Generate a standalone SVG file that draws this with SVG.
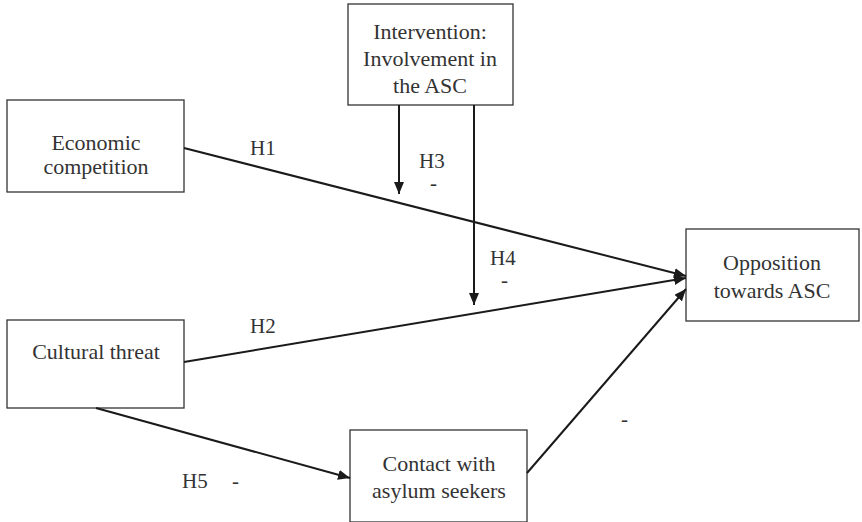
<svg xmlns="http://www.w3.org/2000/svg" width="862" height="522" viewBox="0 0 862 522">
<style>
.box{fill:#fff;stroke:#333;stroke-width:1.3}
.t{font-size:22px;fill:#333;text-anchor:middle}
.lbl{font-size:21px;fill:#333}
.c{stroke:#1a1a1a;stroke-width:2;fill:none;marker-end:url(#ah)}
</style>
<defs>
<marker id="ah" viewBox="0 0 12 10" refX="12" refY="5" markerWidth="12" markerHeight="10" markerUnits="userSpaceOnUse" orient="auto">
<path d="M0,0 L12,5 L0,10 Z" fill="#1a1a1a"/>
</marker>
</defs>
<g font-family="'Liberation Serif', 'DejaVu Serif', serif">
<g id="intervention">
<rect class="box" x="348" y="4" width="165" height="101"/>
<text class="t" x="430" y="39">Intervention:</text>
<text class="t" x="430" y="66">Involvement in</text>
<text class="t" x="430" y="93">the ASC</text>
</g>
<g id="economic">
<rect class="box" x="7" y="100" width="177" height="92"/>
<text class="t" x="96" y="150">Economic</text>
<text class="t" x="96" y="174">competition</text>
</g>
<g id="opposition">
<rect class="box" x="686" y="229" width="173" height="92"/>
<text class="t" x="772" y="270">Opposition</text>
<text class="t" x="772" y="298">towards ASC</text>
</g>
<g id="cultural">
<rect class="box" x="7" y="320" width="177" height="88"/>
<text class="t" x="96" y="359">Cultural threat</text>
</g>
<g id="contact">
<rect class="box" x="350" y="430" width="177" height="92"/>
<text class="t" x="439" y="471">Contact with</text>
<text class="t" x="439" y="498">asylum seekers</text>
</g>
<g id="connectors">
<line class="c" x1="184" y1="148" x2="686" y2="276"/>
<line class="c" x1="184" y1="362" x2="686" y2="278"/>
<line class="c" x1="96" y1="408" x2="350" y2="478"/>
<line class="c" x1="527" y1="473" x2="686" y2="289"/>
<line class="c" x1="399" y1="105" x2="399" y2="194"/>
<line class="c" x1="474" y1="105" x2="474" y2="305"/>
</g>
<g id="labels">
<text class="lbl" x="250" y="155">H1</text>
<text class="lbl" x="419" y="168">H3</text>
<text class="lbl" x="430" y="190">-</text>
<text class="lbl" x="490" y="265">H4</text>
<text class="lbl" x="501" y="287">-</text>
<text class="lbl" x="250" y="333">H2</text>
<text class="lbl" x="182" y="488">H5</text>
<text class="lbl" x="232" y="488">-</text>
<text class="lbl" x="621" y="426">-</text>
</g>
</g>
</svg>
